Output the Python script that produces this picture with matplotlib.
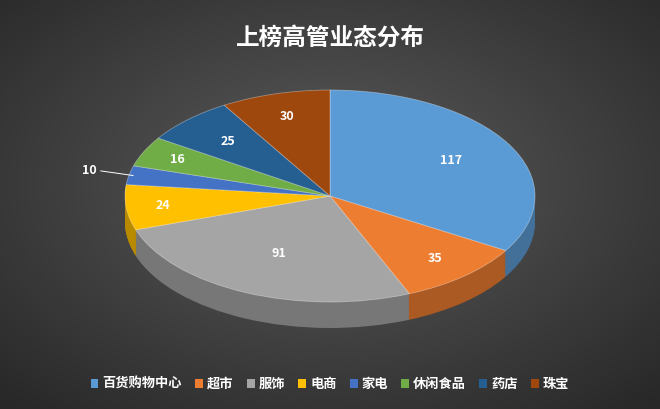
import numpy as np
import matplotlib
matplotlib.use("Agg")
import matplotlib.pyplot as plt
from matplotlib.colors import to_rgb
from matplotlib.patches import Patch

plt.rcParams['font.family'] = ['Noto Sans CJK SC', 'DejaVu Sans']

categories = ['百货购物中心', '超市', '服饰', '电商', '家电', '休闲食品', '药店', '珠宝']
values = [117, 35, 91, 24, 10, 16, 25, 30]
colors = ['#5B9BD5', '#ED7D31', '#A5A5A5', '#FFC000', '#4472C4', '#70AD47', '#255E91', '#9E480E']

W, H = 660, 409
fig = plt.figure(figsize=(W/100, H/100), dpi=100)

# background gradient
bg = fig.add_axes([0, 0, 1, 1])
yy, xx = np.mgrid[0:H, 0:W]
d = np.sqrt(((xx - W/2)/W)**2 + ((yy - H*0.45)/H)**2)
g = np.clip(0.36 - 0.28*d, 0.16, 0.36)
bg.imshow(np.dstack([g, g, g]), extent=[0, W, H, 0], aspect='auto')
bg.axis('off')

ax = fig.add_axes([0, 0, 1, 1])
ax.patch.set_alpha(0)
rx, ry = 205, 106
k = rx/ry
ax.set_xlim(0, W)
ax.set_ylim(0, H*k)
cx, cy = 330, (H - 196)*k
depth = 26*k

dark = [tuple(np.array(to_rgb(c))*0.72) for c in colors]
for i in range(30, 0, -1):
    off = depth*i/30
    ax.pie(values, colors=dark, startangle=90, counterclock=False,
           center=(cx, cy - off), radius=rx, frame=True,
           wedgeprops=dict(linewidth=0))
lab = []
def fmt(p):
    return ''
wedges, _ = ax.pie(values, colors=colors, startangle=90, counterclock=False,
                   center=(cx, cy), radius=rx, frame=True,
                   wedgeprops=dict(linewidth=0.6, edgecolor=(1, 1, 1, 0.35)))
ax.set_aspect('auto')
ax.set_xlim(0, W)
ax.set_ylim(0, H*k)
ax.axis('off')

total = sum(values)
ang = 90.0
dists = [0.68, 0.78, 0.6, 0.82, 1.2, 0.82, 0.72, 0.78]
for i, v in enumerate(values):
    sweep = 360*v/total
    mid = np.deg2rad(ang - sweep/2)
    ang -= sweep
    r = rx*dists[i]
    x, y = cx + r*np.cos(mid), cy + r*np.sin(mid)
    if v == 10:
        ex, ey = cx + rx*0.98*np.cos(mid), cy + rx*0.98*np.sin(mid)
        ax.plot([x + 12, ex], [y, ey], color='white', lw=0.7)
        ax.text(x + 8, y, str(v), color='white', fontsize=9, fontweight='bold',
                ha='right', va='center')
    else:
        ax.text(x, y, str(v), color='white', fontsize=9, fontweight='bold',
                ha='center', va='center')

fig.text(0.5, 1 - 38/H, '上榜高管业态分布', color='white', fontsize=17,
         fontweight='bold', ha='center', va='center')

handles = [Patch(facecolor=c, edgecolor='none') for c in colors]
leg = fig.legend(handles, categories, loc='center', bbox_to_anchor=(0.5, 1 - 384/H),
                 ncol=8, frameon=False, fontsize=9.5, handlelength=0.6,
                 handleheight=0.6, columnspacing=1.0, handletextpad=0.3)
for t in leg.get_texts():
    t.set_color('white')
    t.set_fontweight('bold')

fig.savefig('out.png', dpi=100)
